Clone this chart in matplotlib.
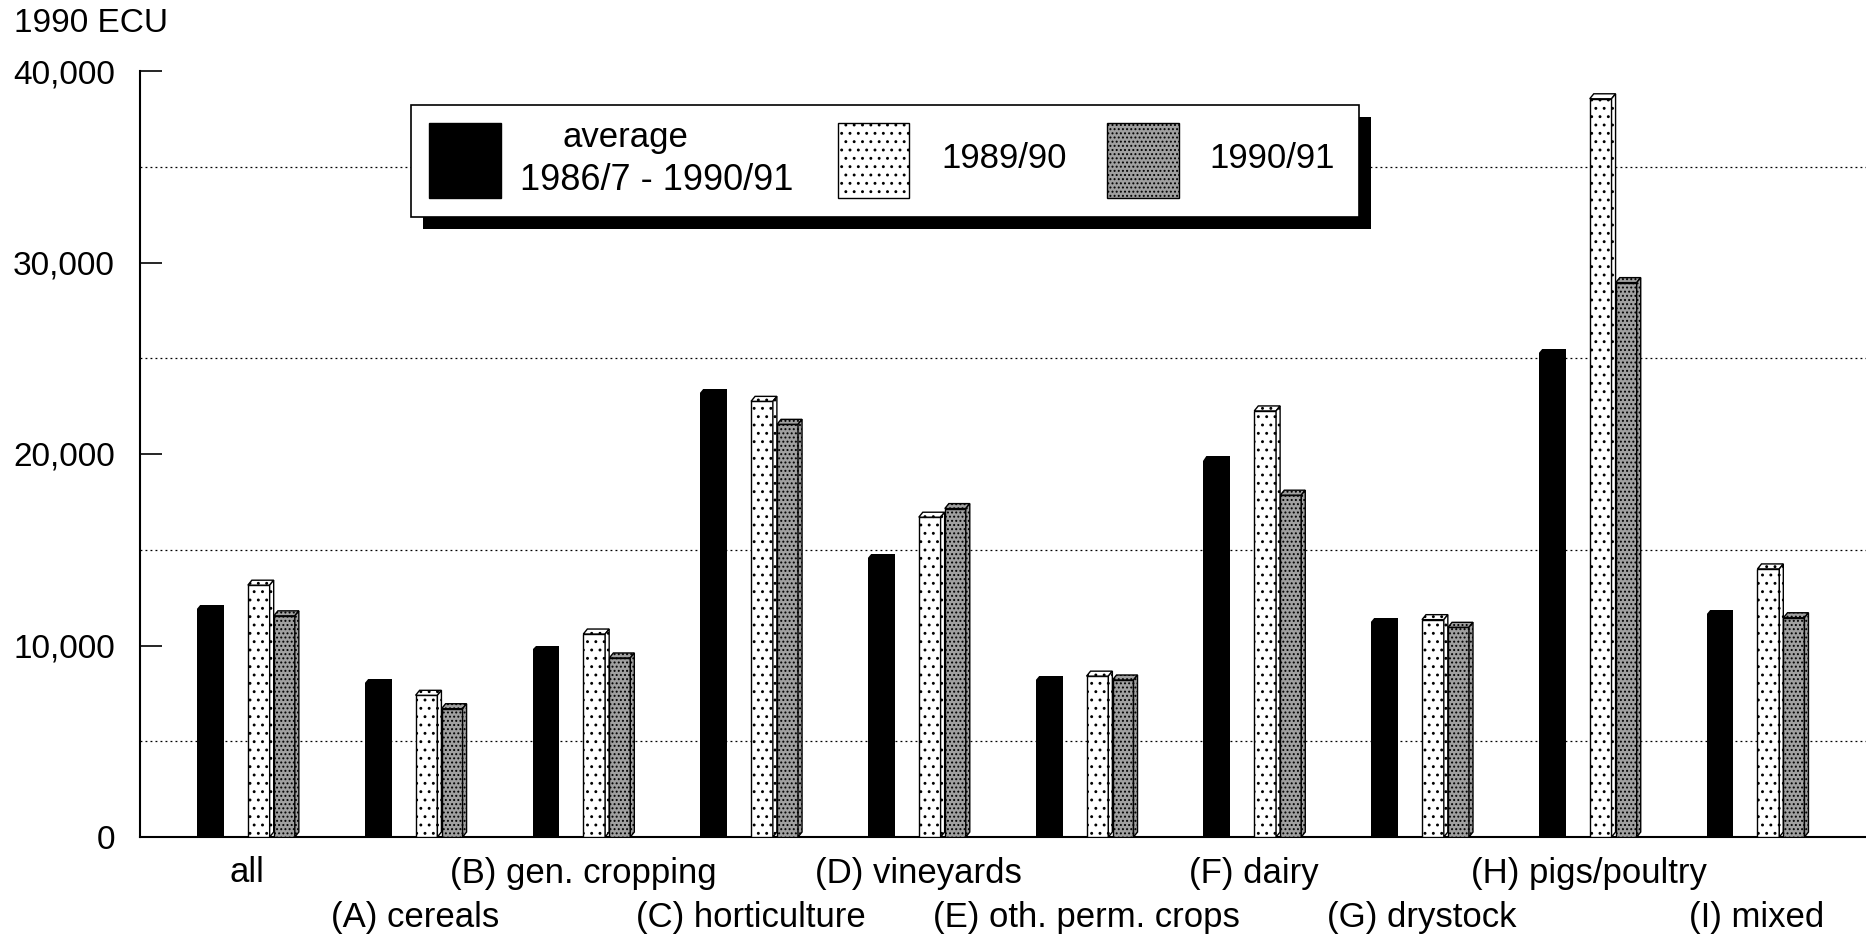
import matplotlib.pyplot as plt
from matplotlib.patches import Polygon, Rectangle
from matplotlib.transforms import blended_transform_factory
import numpy as np

plt.rcParams['font.family'] = ['Liberation Sans', 'DejaVu Sans']
plt.rcParams['hatch.linewidth'] = 0.9

# ---- data (1990 ECU) ----
categories = ['all', '(A) cereals', '(B) gen. cropping', '(C) horticulture',
              '(D) vineyards', '(E) oth. perm. crops', '(F) dairy',
              '(G) drystock', '(H) pigs/poultry', '(I) mixed']
avg_8791 = [12100, 8250, 10000, 23400, 14800, 8400, 19900, 11450, 25500, 11850]
y_8990 = [13150, 7400, 10600, 22750, 16700, 8400, 22250, 11350, 38550, 14000]
y_9091 = [11550, 6700, 9350, 21550, 17150, 8200, 17850, 10950, 28950, 11450]
yticks = [0, 10000, 20000, 30000, 40000]
grid_y = [5000, 15000, 25000, 35000]

W, H = 1866, 943
fig = plt.figure(figsize=(W / 100, H / 100), dpi=100)
ax = fig.add_axes([140 / W, 106 / H, 1726 / W, 766 / H])

x = np.arange(len(categories))
dx = 0.024   # 3d depth, x
dy = 260     # 3d depth, y

DOT = dict(face='white', hatch='..')
GRAY = dict(face='#a0a0a0', hatch='....')


def bars3d(left, w, vals, face, hatch):
    ax.bar(left, vals, width=w, align='edge', color=face, edgecolor='black',
           hatch=hatch, linewidth=1, zorder=3)
    for xl, h in zip(left, vals):
        top = [(xl, h), (xl + dx, h + dy), (xl + w + dx, h + dy), (xl + w, h)]
        side = [(xl + w, 0), (xl + w + dx, dy), (xl + w + dx, h + dy), (xl + w, h)]
        for pts in (top, side):
            ax.add_patch(Polygon(pts, closed=True, facecolor=face, edgecolor='black',
                                 hatch=hatch, lw=1, zorder=3))


# black average bars, corner cut at top left
bw = 0.16
ax.bar(x - 0.30, avg_8791, width=bw, align='edge', color='black', zorder=3)
for xl, h in zip(x - 0.30, avg_8791):
    ax.add_patch(Polygon([(xl - 0.005, h - dy), (xl - 0.005, h + 50), (xl + dx, h + 50)],
                         closed=True, facecolor='white', edgecolor='none', zorder=4))

bars3d(x + 0.003, 0.13, y_8990, DOT['face'], DOT['hatch'])
bars3d(x + 0.158, 0.125, y_9091, GRAY['face'], GRAY['hatch'])

ax.set_xlim(-0.64, 9.65)
ax.set_ylim(0, 40000)

ax.set_yticks(yticks)
ax.set_yticklabels(['{:,}'.format(v) for v in yticks])
ax.set_yticks(grid_y, minor=True)
ax.grid(which='minor', axis='y', linestyle=(0, (1.5, 2.5)), color='black', lw=0.9)
ax.set_axisbelow(True)
ax.tick_params(axis='y', which='major', direction='in', length=16, width=1.2,
               pad=18, labelsize=24)
ax.tick_params(axis='y', which='minor', length=0)
ax.set_xticks([])

for s in ['top', 'right']:
    ax.spines[s].set_visible(False)
ax.spines['left'].set_linewidth(1.5)
ax.spines['bottom'].set_linewidth(1.5)

# category labels on two staggered rows
trans = blended_transform_factory(ax.transData, ax.transAxes)
for i, lab in enumerate(categories):
    yy = -36 / 766 if i % 2 == 0 else -81 / 766
    ax.text(x[i], yy, lab, transform=trans, ha='center', va='center', fontsize=25)

fig.text(14 / W, 1 - 24 / H, '1990 ECU', fontsize=24, ha='left', va='center')


# ---- legend drawn by hand (pixel layout) ----
def rect_px(x0, y0, x1, y1, **kw):
    fig.add_artist(Rectangle((x0 / W, 1 - y1 / H), (x1 - x0) / W, (y1 - y0) / H,
                             transform=fig.transFigure, **kw))


def text_px(xp, yp, s, size=25):
    fig.text(xp / W, 1 - yp / H, s, fontsize=size, ha='center', va='center', zorder=8)


rect_px(423, 117, 1371, 229, facecolor='black', edgecolor='none', zorder=5)
rect_px(411, 105, 1359, 217, facecolor='white', edgecolor='black', lw=1.2, zorder=6)
rect_px(429, 123, 501, 198, facecolor='black', edgecolor='black', zorder=7)
rect_px(838, 123, 909, 198, facecolor=DOT['face'], edgecolor='black',
        hatch=DOT['hatch'], lw=1, zorder=7)
rect_px(1107, 123, 1179, 198, facecolor=GRAY['face'], edgecolor='black',
        hatch=GRAY['hatch'], lw=1, zorder=7)

text_px(625, 138, 'average')
text_px(657, 181, '1986/7 - 1990/91', 26)
text_px(1004, 159, '1989/90')
text_px(1272, 159, '1990/91')

fig.savefig('out.png', dpi=100)
